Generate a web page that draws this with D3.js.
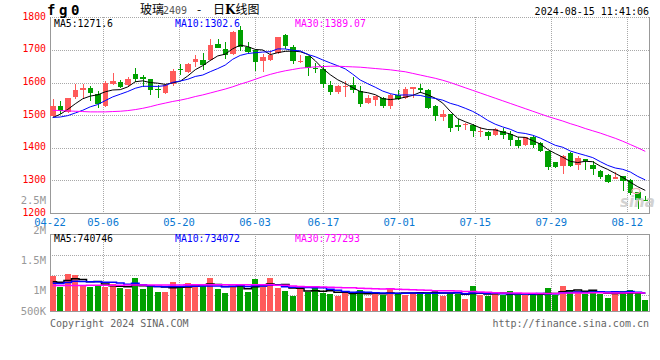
<!DOCTYPE html>
<html><head><meta charset="utf-8">
<script src="https://cdn.jsdelivr.net/npm/d3@7"></script>
<style>body{margin:0;background:#fff}svg{display:block}</style>
</head><body>
<svg id="c" width="660" height="360"></svg>
<script>
// ---------- DATA ----------
const dates = ["04-22","04-23","04-24","04-25","04-26","04-29","04-30",
"05-06","05-07","05-08","05-09","05-10","05-13","05-14","05-15","05-16","05-17",
"05-20","05-21","05-22","05-23","05-24","05-27","05-28","05-29","05-30","05-31",
"06-03","06-04","06-05","06-06","06-07","06-11","06-12","06-13","06-14",
"06-17","06-18","06-19","06-20","06-21","06-24","06-25","06-26","06-27","06-28",
"07-01","07-02","07-03","07-04","07-05","07-08","07-09","07-10","07-11","07-12",
"07-15","07-16","07-17","07-18","07-19","07-22","07-23","07-24","07-25","07-26",
"07-29","07-30","07-31","08-01","08-02","08-05","08-06","08-07","08-08","08-09",
"08-12","08-13","08-14","08-15"];
const open  = [1496,1528,1511,1556,1578,1584,1566,1529,1594,1601,1592,1626,1616,1611,1580,1568,1594,1642,1632,1663,1670,1668,1718,1703,1687,1762,1710,
1700,1667,1669,1690,1745,1710,1663,1680,1646,1642,1592,1572,1586,1591,1574,1538,1546,1554,1528,1562,1552,1581,1582,1576,1528,1493,
1503,1470,1470,1470,1450,1447,1440,1450,1442,1424,1408,1432,1414,1389,1355,1345,1383,1347,1365,1347,1330,1316,1304,1312,1302,1263,1241];
const high  = [1550,1543,1553,1597,1594,1589,1574,1606,1629,1609,1616,1644,1622,1612,1592,1596,1640,1656,1660,1685,1690,1733,1735,1725,1758,1772,1725,
1702,1687,1697,1741,1750,1715,1685,1682,1660,1655,1604,1591,1604,1616,1589,1561,1559,1556,1566,1576,1586,1586,1596,1579,1530,1515,
1505,1488,1476,1472,1465,1452,1462,1460,1452,1432,1432,1435,1418,1390,1357,1379,1388,1376,1367,1360,1332,1319,1327,1312,1304,1264,1251];
const low   = [1494,1503,1508,1549,1552,1544,1521,1526,1592,1583,1585,1601,1587,1562,1553,1566,1590,1624,1630,1649,1637,1665,1705,1673,1684,1697,1690,
1634,1632,1665,1688,1703,1657,1660,1619,1629,1582,1562,1564,1556,1569,1526,1535,1528,1521,1518,1545,1550,1552,1569,1520,1483,1483,
1449,1450,1455,1434,1432,1424,1437,1427,1406,1399,1405,1398,1386,1333,1338,1321,1340,1332,1333,1317,1305,1292,1304,1268,1255,1212,1236];
const close = [1528,1513,1552,1576,1582,1569,1533,1598,1604,1587,1611,1612,1612,1577,1578,1592,1636,1637,1658,1673,1655,1715,1707,1685,1756,1710,1693,
1663,1677,1685,1740,1713,1667,1667,1646,1641,1594,1572,1589,1589,1577,1535,1554,1559,1528,1562,1548,1579,1586,1576,1523,1496,1503,
1462,1464,1474,1452,1452,1437,1459,1440,1424,1404,1432,1409,1389,1340,1342,1376,1345,1370,1360,1335,1309,1294,1309,1299,1261,1240,1238];
// closes of the 9 sessions before 04-22 (estimated from where the MA5/MA10 lines start)
const preCloses = [1500,1510,1495,1498,1464,1462,1478,1490,1505];
const ma30 = [1515,1514,1513,1512,1511,1510,1510,1510,1511,1512,1514,1517,1521,1526,1532,1537,1542,1546,1551,1557,1562,1568,1574,1580,1587,1595,1602,
1610,1618,1625,1631,1636,1640,1644,1646,1648,1649,1650,1650,1649,1648,1647,1645,1643,1641,1639,1636,1633,1628,1623,1618,1613,1607,
1600,1592,1584,1576,1568,1560,1552,1544,1536,1528,1520,1512,1504,1496,1489,1482,1474,1467,1459,1452,1445,1437,1429,1420,1410,1400,1389];
const volume = [1444,994,1513,1472,1023,969,1063,994,1092,928,900,1362,900,1063,789,789,1198,994,1157,994,1023,1362,900,748,994,1104,789,
1309,994,1337,953,818,626,900,789,1023,724,695,626,789,724,859,544,724,654,900,748,654,748,683,789,859,626,
748,695,491,1023,654,626,724,654,818,654,654,654,654,953,654,1023,859,818,695,859,695,544,765,818,859,765,450].map(v => v * 1000);
const preVolumes = [1050,1080,1040,1090,1060,1100,1180,1120,1156].map(v => v * 1000);
const volMa30 = [1040,1042,1044,1046,1048,1050,1052,1054,1056,1058,1060,1062,1063,1064,1065,1066,1067,1068,1069,1070,1070,1071,1071,1072,1072,1072,1073,1073,1073,
1073,1057,1051,1021,1002,995,996,985,975,960,955,949,932,920,909,905,908,893,882,868,858,850,833,824,824,814,794,802,780,768,747,737,737,738,730,725,713,721,719,733,735,738,733,743,742,739,734,736,743,744,736].map(v => v * 1000);
const priceTicks = [1200,1300,1400,1500,1600,1700,1800];
const dateTicks = ["04-22","05-06","05-20","06-03","06-17","07-01","07-15","07-29","08-12"];
const volTicks = [2500000,2000000,1500000,1000000,500000];
const priceLegend = [["MA5","1271.6"],["MA10","1302.6"],["MA30","1389.07"]];
const volLegend = [["MA5","740746"],["MA10","734072"],["MA30","737293"]];

// ---------- DRAW ----------
const svg = d3.select("#c");
const L = 50, R = 650, PT = 17.3, PB = 213, VT = 234, VB = 311;
const RED = "#ff5a5a", GREEN = "#00a000", GRID = "#a8a8a8", FRAME = "#999";
const MONO = "DejaVu Sans Mono";
const maColors = ["#000", "#0000ff", "#ff00ff"];

const xBand = d3.scaleBand().domain(dates).range([L - 1, R - 1]);
const xGrid = d3.scalePoint().domain(dates).range([L, R]);
const yP = d3.scaleLinear().domain([1200, 1800]).range([PB, PT]);
const yV = d3.scaleLinear().domain([0, 3150000]).range([VB, VT]);
const yVL = d3.scaleLinear().domain([1000000, 2000000]).range([290, 230]);
const cx = d => xBand(d) + xBand.bandwidth() / 2;

function movAvg(vals, pre, n) {
  const all = pre.concat(vals);
  return vals.map((v, i) => d3.mean(all.slice(i + pre.length - n + 1, i + pre.length + 1)));
}
const ma5 = movAvg(close, preCloses, 5), ma10 = movAvg(close, preCloses, 10);
const vma5 = movAvg(volume, preVolumes, 5), vma10 = movAvg(volume, preVolumes, 10);

// grids
const g = svg.append("g").attr("shape-rendering", "crispEdges");
g.selectAll(".hg").data(priceTicks.filter(t => t > 1200)).join("line")
  .attr("x1", L).attr("x2", R).attr("y1", d => Math.round(yP(d)) + 0.5).attr("y2", d => Math.round(yP(d)) + 0.5)
  .attr("stroke", GRID).attr("stroke-dasharray", "1,1");
g.selectAll(".vg").data(dateTicks.slice(1)).join("line")
  .attr("x1", d => Math.round(xGrid(d)) + 0.5).attr("x2", d => Math.round(xGrid(d)) + 0.5)
  .attr("y1", PT).attr("y2", PB).attr("stroke", GRID).attr("stroke-dasharray", "1,1");
g.selectAll(".vg2").data(dateTicks.slice(1)).join("line")
  .attr("x1", d => Math.round(xGrid(d)) + 0.5).attr("x2", d => Math.round(xGrid(d)) + 0.5)
  .attr("y1", VT).attr("y2", VB).attr("stroke", GRID).attr("stroke-dasharray", "1,1");
g.selectAll(".vh").data([255, 275, 295]).join("line")
  .attr("x1", L).attr("x2", R).attr("y1", d => d + 0.5).attr("y2", d => d + 0.5)
  .attr("stroke", GRID).attr("stroke-dasharray", "1,1");

// frames
g.append("path").attr("d", `M${L + 0.5},${PT}V${PB + 0.5}H${R - 0.5}V${PT}`).attr("fill", "none").attr("stroke", FRAME);
g.append("rect").attr("x", L + 0.5).attr("y", VT + 0.5).attr("width", R - L - 1).attr("height", VB - VT)
  .attr("fill", "none").attr("stroke", FRAME);

// candles
const idx = d3.range(dates.length);
const isUp = i => close[i] >= open[i];
const cg = svg.append("g").attr("shape-rendering", "crispEdges");
cg.selectAll(".wick").data(idx).join("line")
  .attr("x1", i => Math.round(cx(dates[i])) + 0.5).attr("x2", i => Math.round(cx(dates[i])) + 0.5)
  .attr("y1", i => yP(high[i])).attr("y2", i => yP(low[i]))
  .attr("stroke", i => isUp(i) ? RED : GREEN);
const bw = 5.5;
cg.selectAll(".body").data(idx).join("rect")
  .attr("x", i => cx(dates[i]) - bw / 2).attr("width", bw)
  .attr("y", i => yP(Math.max(open[i], close[i])))
  .attr("height", i => Math.max(1, Math.abs(yP(open[i]) - yP(close[i]))))
  .attr("fill", i => isUp(i) ? RED : GREEN);

// price MA lines
const line = d3.line().x((v, i) => cx(dates[i])).y(v => yP(v));
[ma5, ma10, ma30].forEach((s, k) => {
  svg.append("path").datum(s).attr("d", line).attr("fill", "none")
    .attr("stroke", maColors[k]).attr("stroke-width", 1);
});

// volume bars
const vw = 6;
cg.selectAll(".vol").data(idx).join("rect")
  .attr("x", i => cx(dates[i]) - vw / 2).attr("width", vw)
  .attr("y", i => yV(volume[i])).attr("height", i => VB - yV(volume[i]))
  .attr("fill", i => isUp(i) ? RED : GREEN);
const vline = d3.line().x((v, i) => cx(dates[i])).y(v => yV(v)).curve(d3.curveStep);
[vma5, vma10, volMa30].forEach((s, k) => {
  svg.append("path").datum(s).attr("d", vline).attr("fill", "none")
    .attr("stroke", maColors[k]).attr("stroke-width", 1.5);
});

// axis labels
svg.selectAll(".pl").data(priceTicks).join("text")
  .attr("x", 46).attr("y", d => yP(d) + 2.5).attr("text-anchor", "end")
  .attr("font-family", MONO).attr("font-size", 9.8).attr("fill", "#f00").text(d => d);
const fmtV = v => v >= 1e6 ? (v / 1e6) + "M" : (v / 1e3) + "K";
svg.selectAll(".vl").data(volTicks).join("text")
  .attr("x", 46).attr("y", d => Math.min(311, yVL(d)) + 4).attr("text-anchor", "end")
  .attr("font-family", MONO).attr("font-size", 10.5).attr("fill", "#999").text(fmtV);
svg.selectAll(".dl").data(dateTicks).join("text")
  .attr("x", d => xGrid(d)).attr("y", 225.5).attr("text-anchor", "middle")
  .attr("font-family", MONO).attr("font-size", 10.5).attr("fill", "#0a78d2").text(d => d);

// legends
const legX = [54, 175, 295];
priceLegend.forEach((p, k) => svg.append("text").attr("x", legX[k]).attr("y", 27)
  .attr("font-family", MONO).attr("font-size", 9.8).attr("fill", maColors[k]).text(p[0] + ":" + p[1]));
volLegend.forEach((p, k) => svg.append("text").attr("x", legX[k]).attr("y", 242)
  .attr("font-family", MONO).attr("font-size", 9.8).attr("fill", maColors[k]).text(p[0] + ":" + p[1]));

// titles
svg.append("text").attr("x", 47).attr("y", 15).attr("font-family", MONO).attr("font-weight", "bold")
  .attr("font-size", 14).attr("letter-spacing", 3.6).attr("fill", "#000").text("fg0");
const CJK = "Noto Sans CJK SC";
svg.append("text").attr("x", 140).attr("y", 14).attr("font-family", CJK).attr("font-size", 12).attr("fill", "#000").text("玻璃");
svg.append("text").attr("x", 163).attr("y", 14).attr("font-family", MONO).attr("font-size", 10).attr("fill", "#555").text("2409");
svg.append("text").attr("x", 197).attr("y", 13.5).attr("font-family", CJK).attr("font-size", 12).attr("fill", "#000").text("-");
const t2 = svg.append("text").attr("x", 213).attr("y", 14).attr("font-family", CJK).attr("font-size", 12).attr("fill", "#000");
t2.append("tspan").text("日");
t2.append("tspan").attr("font-weight", "bold").attr("font-family", "DejaVu Serif").text("K");
t2.append("tspan").text("线图");
svg.append("text").attr("x", 649).attr("y", 15).attr("text-anchor", "end").attr("font-family", MONO)
  .attr("font-size", 10).attr("fill", "#000").text("2024-08-15 11:41:06");
svg.append("text").attr("x", 50).attr("y", 327).attr("font-family", MONO).attr("font-size", 10)
  .attr("fill", "#666").text("Copyright 2024 SINA.COM");
svg.append("text").attr("x", 649).attr("y", 327).attr("text-anchor", "end").attr("font-family", MONO)
  .attr("font-size", 10).attr("fill", "#666").text("http://finance.sina.com.cn");

// watermark
svg.append("text").attr("x", 620).attr("y", 207).attr("font-family", "DejaVu Sans").attr("font-style", "italic")
  .attr("font-weight", "bold").attr("font-size", 15).attr("fill", "#c8c8c8").attr("opacity", 0.8).text("sina");
svg.append("ellipse").attr("cx", 636).attr("cy", 191).attr("rx", 4).attr("ry", 2.5)
  .attr("fill", "none").attr("stroke", "#f3b0b0").attr("stroke-width", 1.2);
</script>
</body></html>
